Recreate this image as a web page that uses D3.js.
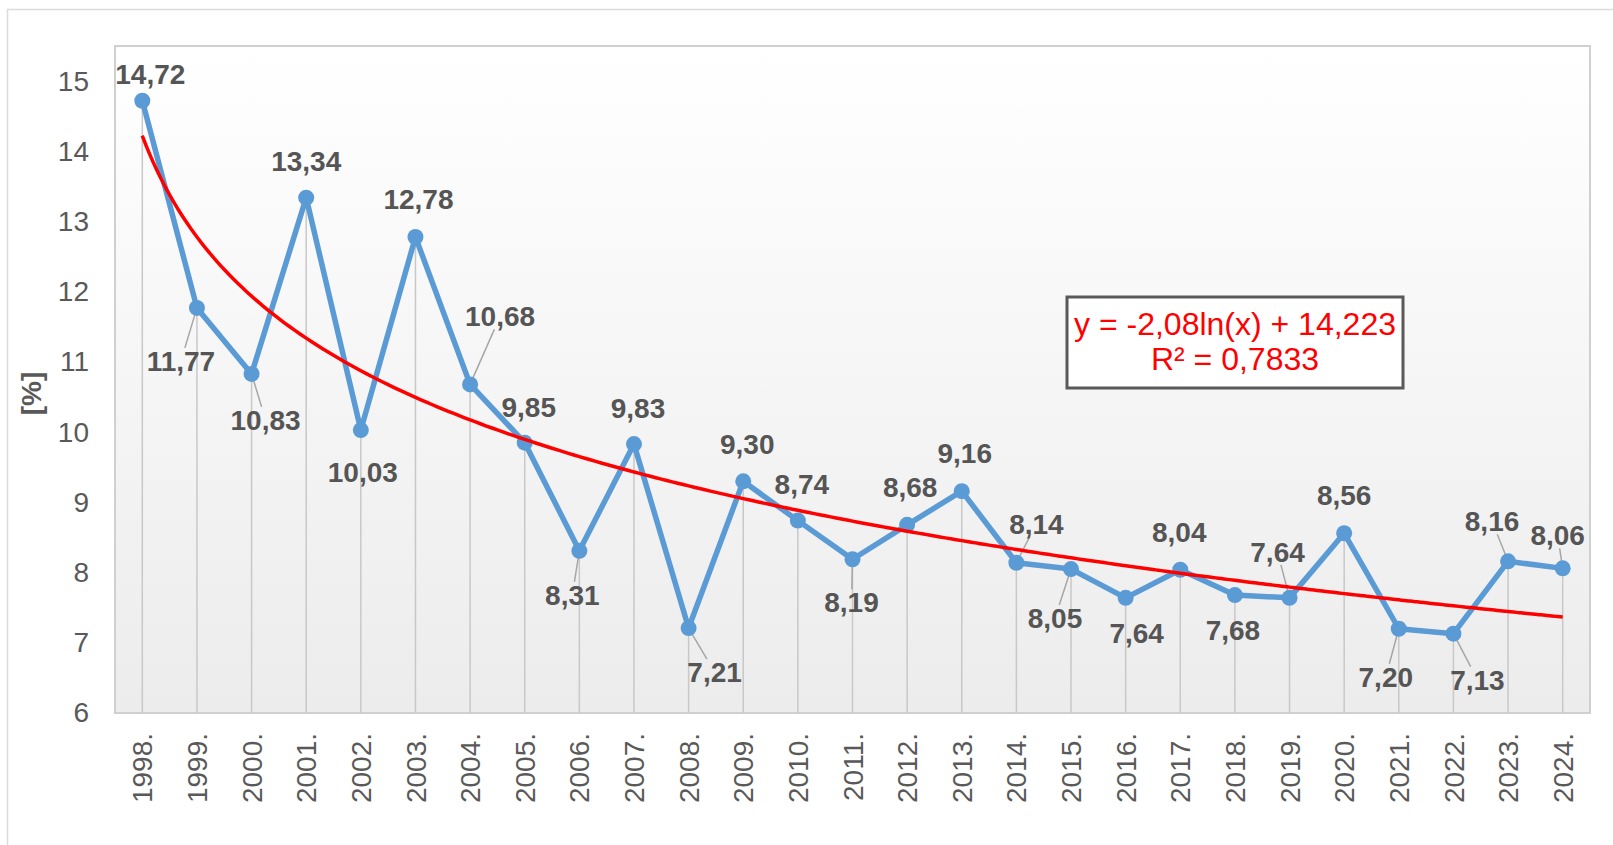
<!DOCTYPE html>
<html>
<head>
<meta charset="utf-8">
<script src="https://cdn.jsdelivr.net/npm/d3@7/dist/d3.min.js"></script>
<style>
  body { margin: 0; background: #fff; }
  svg { display: block; font-family: "Liberation Sans", Arial, sans-serif; }
</style>
</head>
<body>
<div id="chart"></div>
<script>
// --- Data ---
const years = ["1998.", "1999.", "2000.", "2001.", "2002.", "2003.", "2004.", "2005.", "2006.",
  "2007.", "2008.", "2009.", "2010.", "2011.", "2012.", "2013.", "2014.", "2015.", "2016.",
  "2017.", "2018.", "2019.", "2020.", "2021.", "2022.", "2023.", "2024."];
const values = [14.72, 11.77, 10.83, 13.34, 10.03, 12.78, 10.68, 9.85, 8.31, 9.83, 7.21, 9.30,
  8.74, 8.19, 8.68, 9.16, 8.14, 8.05, 7.64, 8.04, 7.68, 7.64, 8.56, 7.20, 7.13, 8.16, 8.06];
const yTicks = [6, 7, 8, 9, 10, 11, 12, 13, 14, 15];
const yDomain = [6, 15.5];
const yAxisTitle = "[%]";
const trendLines = ["y = -2,08ln(x) + 14,223", "R² = 0,7833"];

// --- Layout ---
const W = 1613, H = 845;
const PLOT = { left: 115, right: 1590, top: 46, bottom: 713 };
const BLUE = "#5b9bd5", RED = "#ff0000", TEXT = "#595959";

// label offsets relative to each point (label centre), and whether a leader line is drawn
const labelOffsets = [
  [8, -27, 0], [-16, 53, 1], [14, 46, 1], [0, -37, 0], [2, 42, 0], [3, -38, 0], [30, -68, 1],
  [4, -36, 0], [-7, 44, 1], [4, -36, 0], [26, 44, 1], [4, -37, 0], [4, -37, 0], [-1, 43, 1],
  [3, -38, 0], [3, -38, 0], [20, -39, 1], [-16, 49, 1], [11, 35, 0], [-1, -38, 0], [-2, 35, 0],
  [-12, -46, 1], [0, -38, 0], [-13, 48, 1], [24, 46, 1], [-16, -40, 1], [-5, -33, 1]
];

const svg = d3.select("#chart").append("svg")
  .attr("width", W)
  .attr("height", H);

// card outline
svg.append("rect")
  .attr("x", 7.5).attr("y", 9.5)
  .attr("width", W).attr("height", H)
  .attr("fill", "#fff")
  .attr("stroke", "#dcdcdc")
  .attr("stroke-width", 1.5);

const defs = svg.append("defs");
const grad = defs.append("linearGradient")
  .attr("id", "plotBg")
  .attr("x1", 0).attr("y1", 0).attr("x2", 0).attr("y2", 1);
grad.append("stop").attr("offset", "0%").attr("stop-color", "#ffffff");
grad.append("stop").attr("offset", "100%").attr("stop-color", "#ececec");

// --- Scales ---
const x = d3.scaleBand()
  .domain(years)
  .range([PLOT.left, PLOT.right])
  .padding(0);
const cx = d => x(d) + x.bandwidth() / 2;

const y = d3.scaleLinear()
  .domain(yDomain)
  .range([PLOT.bottom, PLOT.top]);

// plot area
svg.append("rect")
  .attr("x", PLOT.left).attr("y", PLOT.top)
  .attr("width", PLOT.right - PLOT.left)
  .attr("height", PLOT.bottom - PLOT.top)
  .attr("fill", "url(#plotBg)")
  .attr("stroke", "#d0d0d0")
  .attr("stroke-width", 2);

// --- Axes ---
const yAxis = svg.append("g")
  .attr("transform", `translate(${PLOT.left},0)`)
  .call(d3.axisLeft(y).tickValues(yTicks).tickSize(0).tickPadding(26));
yAxis.select(".domain").remove();
yAxis.selectAll("text")
  .attr("fill", TEXT)
  .style("font-size", "28px")
  .style("font-family", "Liberation Sans, Arial, sans-serif");

const xAxis = svg.append("g")
  .attr("transform", `translate(0,${PLOT.bottom})`)
  .call(d3.axisBottom(x).tickSize(0));
xAxis.select(".domain").remove();
xAxis.selectAll("text")
  .attr("transform", "rotate(-90)")
  .attr("text-anchor", "end")
  .attr("x", -20)
  .attr("y", 0)
  .attr("dy", "0.36em")
  .attr("fill", TEXT)
  .style("font-size", "28px")
  .style("font-family", "Liberation Sans, Arial, sans-serif");

svg.append("text")
  .attr("transform", `translate(31,${(PLOT.top + PLOT.bottom) / 2 + 14}) rotate(-90)`)
  .attr("text-anchor", "middle")
  .attr("dy", "0.36em")
  .attr("fill", TEXT)
  .style("font-size", "28px")
  .style("font-weight", "bold")
  .text(yAxisTitle);

// --- Drop lines ---
const points = years.map((yr, i) => ({ yr, v: values[i], i }));

svg.append("g").selectAll("line")
  .data(points)
  .join("line")
  .attr("x1", d => cx(d.yr)).attr("x2", d => cx(d.yr))
  .attr("y1", d => y(d.v)).attr("y2", PLOT.bottom)
  .attr("stroke", "#c8c8c8")
  .attr("stroke-width", 1.5);

// --- Series line ---
const line = d3.line()
  .x(d => cx(d.yr))
  .y(d => y(d.v));

svg.append("path")
  .datum(points)
  .attr("fill", "none")
  .attr("stroke", BLUE)
  .attr("stroke-width", 5.5)
  .attr("stroke-linejoin", "round")
  .attr("d", line);

// --- Logarithmic trend (least squares on ln(index)) ---
const lx = values.map((v, i) => Math.log(i + 1));
const mx = d3.mean(lx), my = d3.mean(values);
const slope = d3.sum(lx, (l, i) => (l - mx) * (values[i] - my)) / d3.sum(lx, l => (l - mx) ** 2);
const intercept = my - slope * mx;

const idx = d3.scaleLinear()
  .domain([1, years.length])
  .range([cx(years[0]), cx(years[years.length - 1])]);
const trendPts = d3.range(1, years.length + 0.001, 0.1);
const trend = d3.line()
  .x(t => idx(t))
  .y(t => y(slope * Math.log(t) + intercept))
  .curve(d3.curveMonotoneX);

// --- Leader lines + labels ---
const fmt = d3.formatLocale({ decimal: ",", thousands: ".", grouping: [3], currency: ["", ""] }).format(".2f");

const leaderG = svg.append("g");

// markers
svg.append("g").selectAll("circle")
  .data(points)
  .join("circle")
  .attr("cx", d => cx(d.yr))
  .attr("cy", d => y(d.v))
  .attr("r", 8)
  .attr("fill", BLUE);

svg.append("path")
  .attr("fill", "none")
  .attr("stroke", RED)
  .attr("stroke-width", 3.5)
  .attr("d", trend(trendPts));

const labelG = svg.append("g");
points.forEach(d => {
  const [dx, dy, leader] = labelOffsets[d.i];
  const px = cx(d.yr), py = y(d.v);
  const t = labelG.append("text")
    .attr("x", px + dx).attr("y", py + dy)
    .attr("dy", "0.36em")
    .attr("text-anchor", "middle")
    .attr("fill", "#555")
    .style("font-size", "28px")
    .style("font-weight", "bold")
    .text(fmt(d.v));
  if (leader) {
    // stop the leader where the segment point -> label centre enters the label box
    const hw = t.node().getBBox().width / 2 + 1;
    const hh = 13;
    const tx = dx !== 0 ? (Math.abs(dx) - hw) / Math.abs(dx) : -1;
    const ty = dy !== 0 ? (Math.abs(dy) - hh) / Math.abs(dy) : -1;
    const tt = Math.max(0, Math.min(1, Math.max(tx, ty)));
    leaderG.append("line")
      .attr("x1", px).attr("y1", py)
      .attr("x2", px + dx * tt).attr("y2", py + dy * tt)
      .attr("stroke", "#a6a6a6")
      .attr("stroke-width", 1.5);
  }
});

// --- Trend equation box ---
const box = { x: 1067, y: 297, w: 336, h: 91 };
svg.append("rect")
  .attr("x", box.x).attr("y", box.y)
  .attr("width", box.w).attr("height", box.h)
  .attr("fill", "#fff")
  .attr("stroke", "#595959")
  .attr("stroke-width", 3);

svg.append("g").selectAll("text")
  .data(trendLines)
  .join("text")
  .attr("x", box.x + box.w / 2)
  .attr("y", (d, i) => box.y + 38 + i * 35)
  .attr("text-anchor", "middle")
  .attr("fill", RED)
  .style("font-size", "32px")
  .text(d => d);
</script>
</body>
</html>
